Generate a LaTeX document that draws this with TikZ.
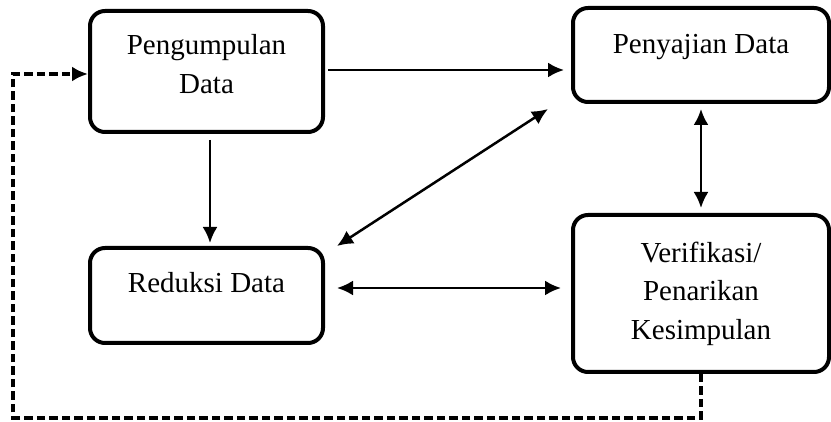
\documentclass[tikz,border=0pt]{standalone}
\usepackage{fontspec}
\setmainfont{Liberation Serif}
\usetikzlibrary{arrows.meta}

\begin{document}
\begin{tikzpicture}[
        kotak/.style={draw, line width=0.08cm, rounded corners=0.3cm, align=center,
            font=\fontsize{16.5}{21.9}\selectfont},
        panah/.style={line width=0.05cm, -{Latex[length=0.32cm,width=0.3cm]}},
        duapanah/.style={line width=0.05cm, {Latex[length=0.32cm,width=0.3cm]}-{Latex[length=0.32cm,width=0.3cm]}},
        putus/.style={line width=0.08cm, dash pattern=on 0.17cm off 0.08cm, -{Latex[length=0.32cm,width=0.3cm]}}
    ]
            \useasboundingbox (0,0) rectangle (16.62,-8.44);

            \def\xa{4.13};
            \def\xb{14.02};

            \def \ya{-1.43};
            \def \yb{-1.10};
            \def \yc{-5.91};
            \def \yd{-5.87};

            \node[kotak, minimum width=4.66cm, minimum height=2.42cm, text depth=0.3cm] (kumpul) at (\xa, \ya) {Pengumpulan\\Data};
            \node[kotak, minimum width=5.12cm, minimum height=1.88cm, text height=0.39cm, text depth=0.44cm] (sajian) at (\xb, \yb) {Penyajian Data};
            \node[kotak, minimum width=4.66cm, minimum height=1.90cm, text height=0.39cm, text depth=0.5cm] (reduksi) at (\xa, \yc) {Reduksi Data};
            \node[kotak, minimum width=5.12cm, minimum height=3.14cm] (verif) at (\xb, \yd) {Verifikasi/\\Penarikan\\Kesimpulan};

            \coordinate (sudut) at (0.26, -8.36);

            \draw[panah, shorten <=0.06cm, shorten >=0.14cm] ([yshift=0.03cm]kumpul.east) -- ([yshift=0.03cm]kumpul.east -| sajian.west);
            \draw[panah, shorten <=0.12cm, shorten >=0.06cm] ([xshift=0.07cm]kumpul.south) -- ([xshift=0.07cm]kumpul.south |- reduksi.north);
            \draw[duapanah] ([xshift=0.24cm]reduksi.north east) -- ([xshift=-0.46cm, yshift=-0.1cm]sajian.south west);
            \draw[duapanah, shorten <=0.24cm, shorten >=0.2cm] ([yshift=0.15cm]reduksi.east) -- ([yshift=0.15cm]reduksi.east -| verif.west);
            \draw[duapanah, shorten <=0.1cm, shorten >=0.1cm] (sajian.south) -- (verif.north);

            \draw[putus] (verif.south) |- (sudut) |- ([yshift=-0.05cm]kumpul.west);

        \end{tikzpicture}
\end{document}
